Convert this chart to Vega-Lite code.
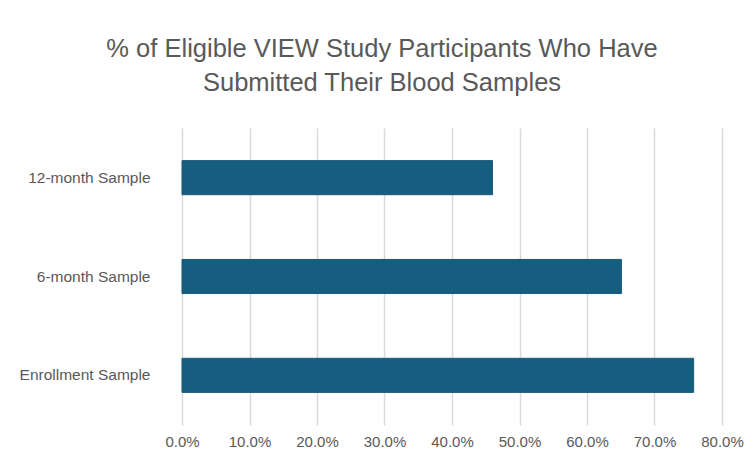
{
  "$schema": "https://vega.github.io/schema/vega-lite/v6.json",
  "width": 540,
  "height": 297,
  "autosize": "none",
  "padding": {"left": 182, "top": 128, "right": 32, "bottom": 31},
  "background": "white",
  "title": {
    "text": ["% of Eligible VIEW Study Participants Who Have", "Submitted Their Blood Samples"],
    "fontSize": 25.5,
    "lineHeight": 34,
    "font": "Liberation Sans",
    "fontWeight": "normal",
    "color": "#595959",
    "anchor": "middle",
    "dx": -70,
    "offset": 32
  },
  "data": {
    "values": [
      {"sample": "12-month Sample", "pct": 0.46},
      {"sample": "6-month Sample", "pct": 0.651},
      {"sample": "Enrollment Sample", "pct": 0.758}
    ]
  },
  "mark": {"type": "bar", "color": "#165e80", "stroke": "#1c5a78", "strokeWidth": 1},
  "encoding": {
    "y": {
      "field": "sample",
      "type": "nominal",
      "sort": ["12-month Sample", "6-month Sample", "Enrollment Sample"],
      "scale": {"paddingInner": 0.655, "paddingOuter": 0.33},
      "axis": {
        "title": null,
        "domain": false,
        "ticks": false,
        "labelFont": "Liberation Sans",
        "labelFontSize": 15.5,
        "labelColor": "#595959",
        "labelPadding": 32
      }
    },
    "x": {
      "field": "pct",
      "type": "quantitative",
      "scale": {"domain": [0, 0.8], "nice": false},
      "axis": {
        "title": null,
        "format": ".1%",
        "values": [0, 0.1, 0.2, 0.3, 0.4, 0.5, 0.6, 0.7, 0.8],
        "domain": false,
        "ticks": false,
        "grid": true,
        "gridColor": "#d9d9d9",
        "gridWidth": 1.5,
        "labelFlush": false,
        "labelFont": "Liberation Sans",
        "labelFontSize": 15,
        "labelColor": "#595959",
        "labelPadding": 9
      }
    }
  },
  "config": {"view": {"stroke": null}}
}
